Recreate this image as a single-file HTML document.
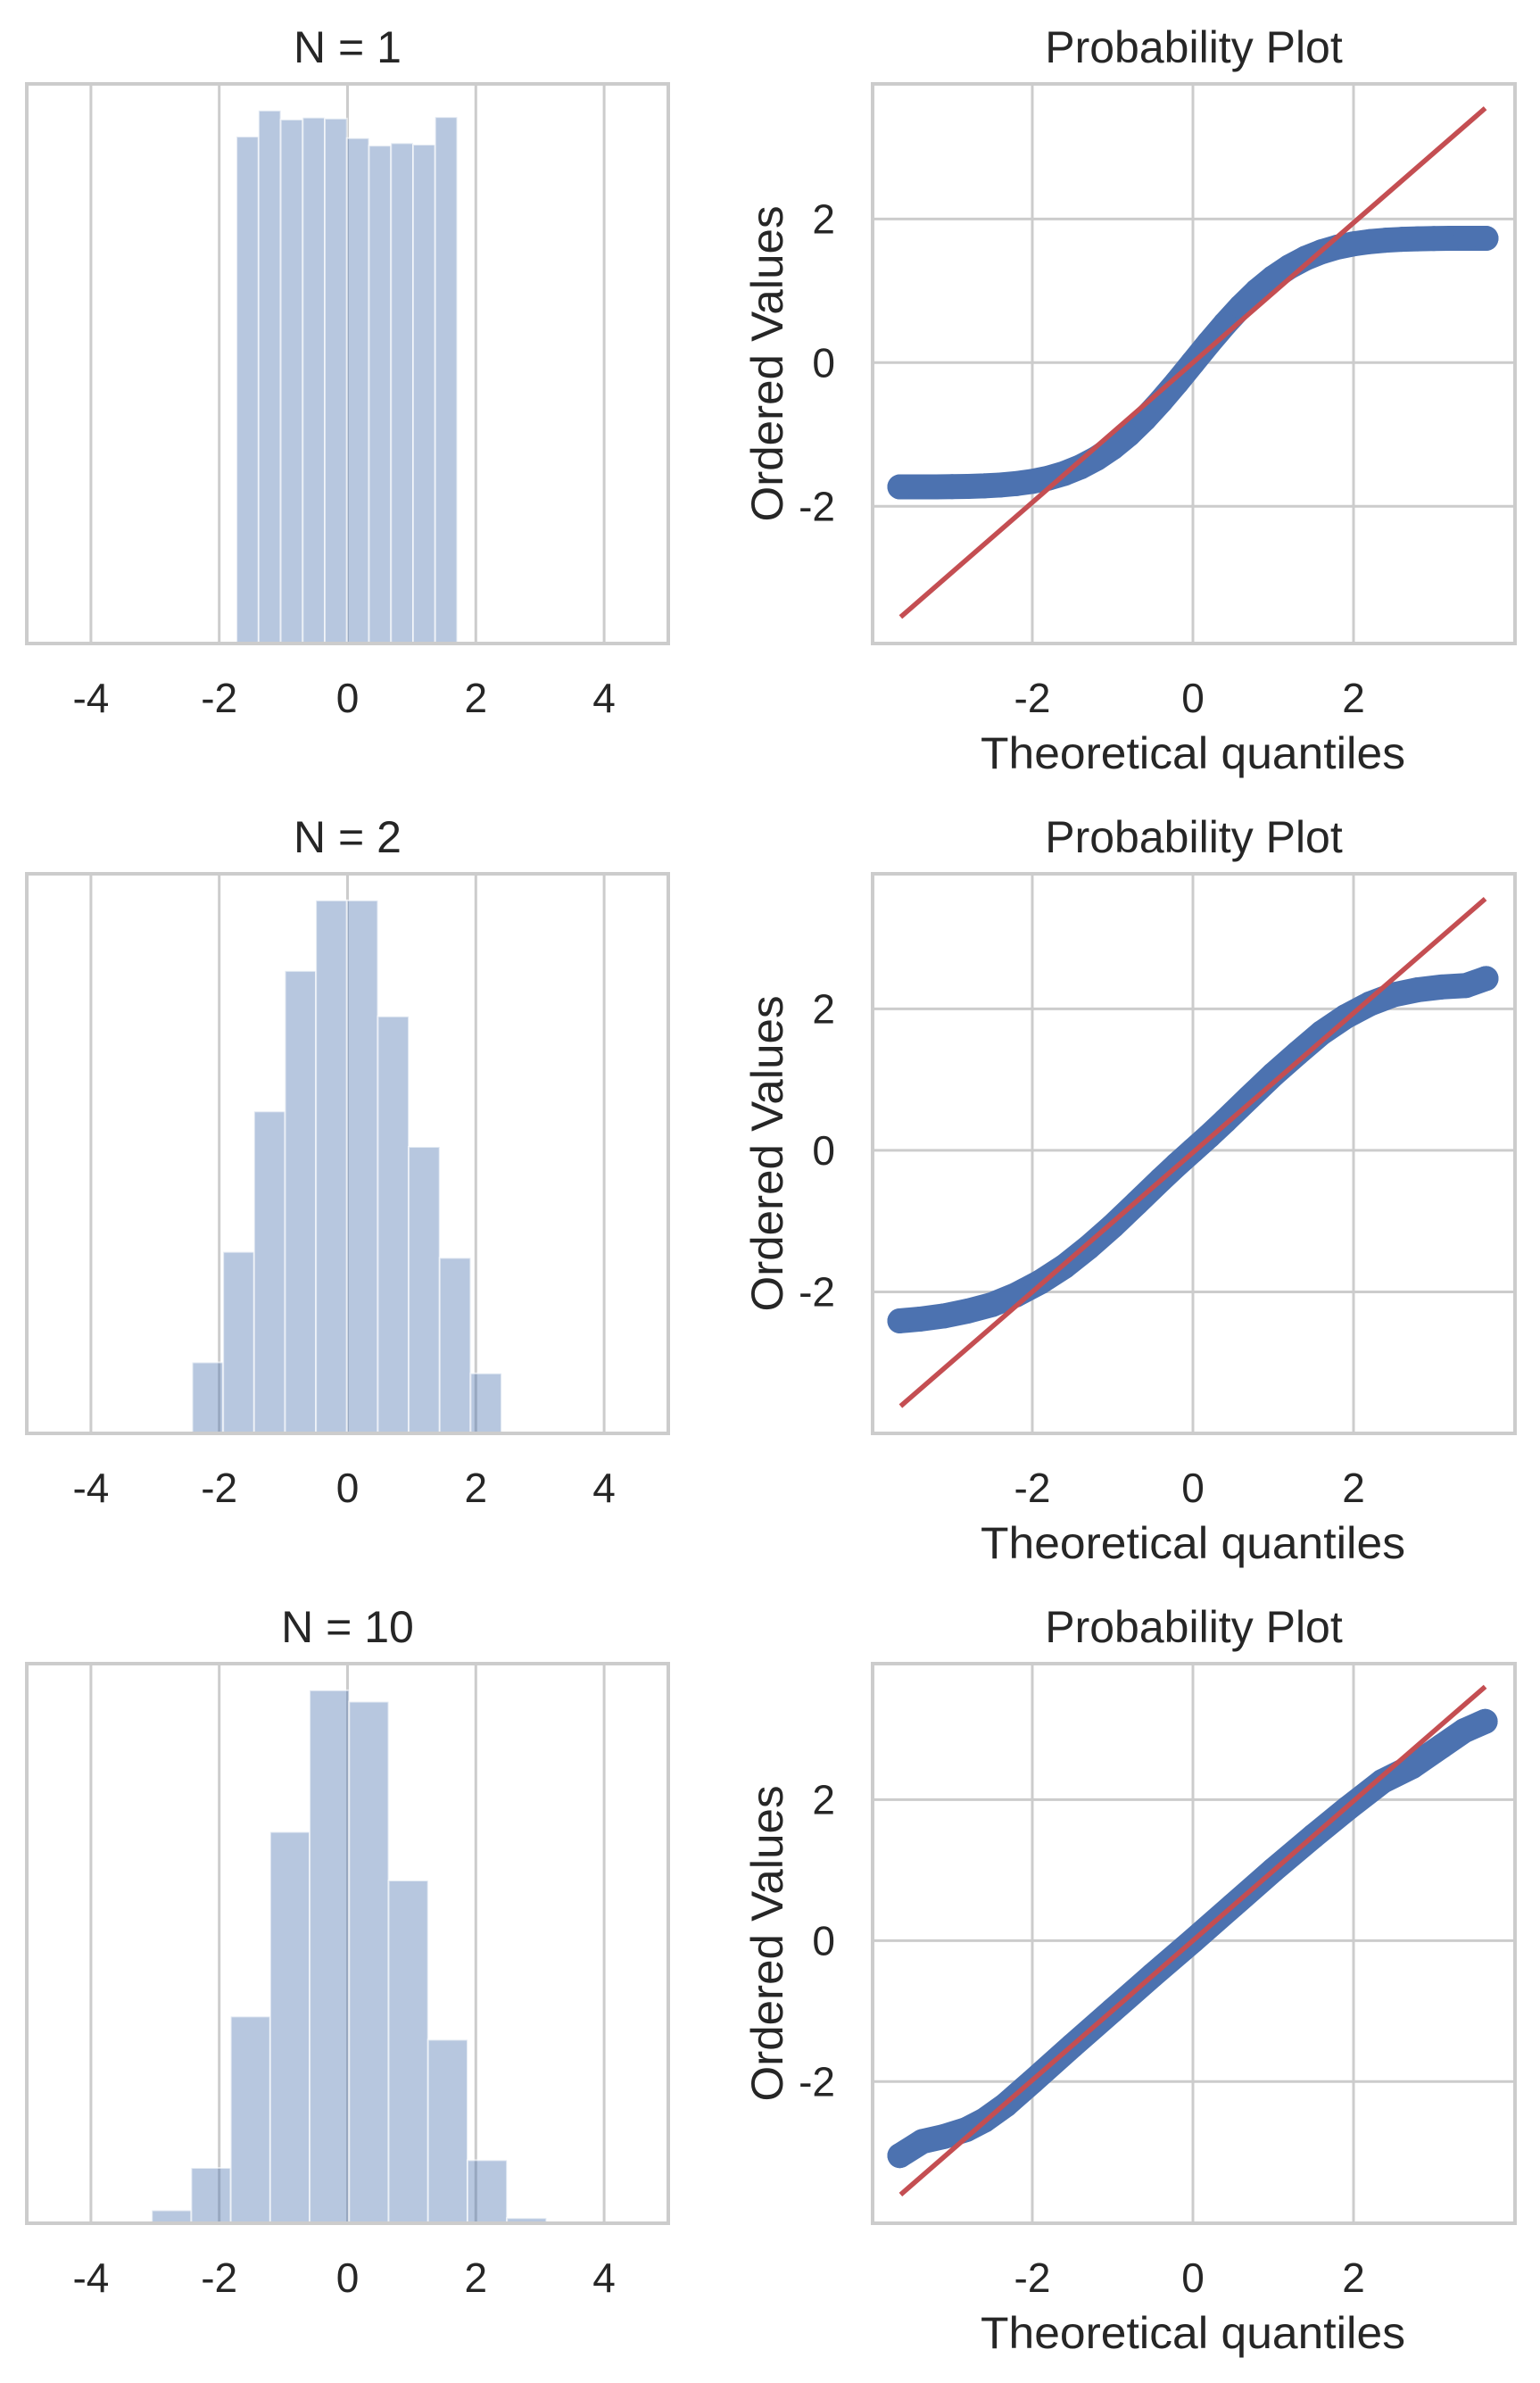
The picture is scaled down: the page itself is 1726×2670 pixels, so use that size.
<!DOCTYPE html>
<html><head><meta charset="utf-8"><style>
html,body{margin:0;padding:0;background:#fff}
svg{display:block}
text{font-family:"Liberation Sans","NanumGothic",sans-serif;fill:#262626}
</style></head><body>
<svg id="fig" width="1726" height="2670" viewBox="0 0 1726 2670" xmlns="http://www.w3.org/2000/svg"></svg>
<script>
// ---- data ----
const histTitles = ["N = 1", "N = 2", "N = 10"];
const histStart = [-1.73, -2.42, -3.05];
const histBinWidth = [0.344, 0.482, 0.615];
const histCounts1 = [1011, 1063, 1045, 1049, 1047, 1008, 993, 998, 995, 1050];
const histCounts2 = [142, 363, 644, 925, 1066, 1066, 834, 573, 351, 120];
const histCounts3 = [25, 107, 400, 757, 1031, 1009, 663, 355, 122, 10];
const histXTicks = [-4, -2, 0, 2, 4];

const qqX1 = [-3.65,-3.4,-3.2,-3.0,-2.8,-2.6,-2.4,-2.2,-2.0,-1.8,-1.6,-1.4,-1.2,-1.0,-0.8,-0.6,-0.4,-0.2,0,0.2,0.4,0.6,0.8,1.0,1.2,1.4,1.6,1.8,2.0,2.2,2.4,2.6,2.8,3.0,3.2,3.4,3.65];
const qqY1 = [-1.73,-1.73,-1.73,-1.727,-1.723,-1.716,-1.704,-1.684,-1.653,-1.608,-1.542,-1.452,-1.333,-1.183,-1.0,-0.782,-0.537,-0.275,0,0.275,0.537,0.782,1.0,1.183,1.333,1.452,1.542,1.608,1.653,1.684,1.704,1.716,1.723,1.727,1.73,1.73,1.73];
const qqX2 = [-3.65,-3.4,-3.1,-2.8,-2.5,-2.2,-1.9,-1.6,-1.3,-1.0,-0.7,-0.4,-0.2,0,0.2,0.4,0.7,1.0,1.3,1.6,1.9,2.2,2.5,2.8,3.1,3.4,3.65];
const qqY2 = [-2.41,-2.385,-2.34,-2.27,-2.18,-2.04,-1.86,-1.64,-1.37,-1.07,-0.745,-0.416,-0.203,0,0.203,0.416,0.745,1.07,1.37,1.66,1.89,2.07,2.2,2.27,2.31,2.33,2.43];
const qqX3 = [-3.65,-3.37,-3.1,-2.82,-2.6,-2.33,-2.0,-1.5,-1.0,-0.5,0,0.5,1.0,1.5,1.93,2.36,2.73,3.1,3.38,3.64];
const qqY3 = [-3.05,-2.85,-2.78,-2.68,-2.55,-2.33,-2.0,-1.49,-0.99,-0.49,0.0,0.5,1.0,1.48,1.88,2.26,2.47,2.76,2.98,3.11];
const fitSlope = [0.973, 0.985, 0.99];
const fitIntercept = [0.0, -0.03, 0.0];
const fitXRange = [-3.64, 3.64];
const qqXTicks = [-2, 0, 2];
const qqYTicks = [2, 0, -2];
const qqYLims = [[-3.91, 3.88], [-4.0, 3.91], [-4.01, 3.93]];

// ---- drawing ----
const NS = "http://www.w3.org/2000/svg";
const svg = document.getElementById("fig");
function mk(tag, attrs, parent) {
  const e = document.createElementNS(NS, tag);
  for (const k in attrs) e.setAttribute(k, attrs[k]);
  (parent || svg).appendChild(e);
  return e;
}
const rowTop = [94, 979, 1864];
const AH = 627;
const histCounts = [histCounts1, histCounts2, histCounts3];
const qqX = [qqX1, qqX2, qqX3];
const qqY = [qqY1, qqY2, qqY3];
const GRID = "#cccccc";
const TICK = 46;

for (let r = 0; r < 3; r++) {
  const top = rowTop[r], bot = top + AH;
  // ===== histogram =====
  const hx0 = 30, hx1 = 749;
  const hxs = v => hx0 + (v + 5) / 10 * (hx1 - hx0);
  const counts = histCounts[r];
  const ymax = Math.max(...counts) * 1.05;
  const hys = v => bot - v / ymax * AH;
  const hg = mk("g", {});
  
  
  for (const t of histXTicks) {
    const gl = mk("line", {x1: hxs(t), x2: hxs(t), y1: top, y2: bot, stroke: GRID, "stroke-width": 3}, hg);
    
    
    const tl = mk("text", {x: hxs(t), y: bot + 77, "font-size": TICK, "text-anchor": "middle"}, hg);
    tl.textContent = t;
    
    
  }
  counts.forEach((c, i) => {
    const a = histStart[r] + i * histBinWidth[r];
    const b = a + histBinWidth[r];
    const rect = mk("rect", {x: hxs(a), y: hys(c), width: hxs(b) - hxs(a), height: bot - hys(c),
      fill: "#4c72b0", "fill-opacity": 0.4, stroke: "#ffffff", "stroke-opacity": 0.6, "stroke-width": 2}, hg);
    
    
  });
  const hf = mk("rect", {x: hx0, y: top, width: hx1 - hx0, height: AH, fill: "none", stroke: GRID, "stroke-width": 4}, hg);
  
  
  const ht = mk("text", {x: (hx0 + hx1) / 2, y: top - 24, "font-size": 50, "text-anchor": "middle"}, hg);
  ht.textContent = histTitles[r];
  
  

  // ===== probability plot =====
  const qx0 = 978, qx1 = 1698;
  const qxs = v => 1337 + v * 90;
  const [ylo, yhi] = qqYLims[r];
  const qys = v => top + (yhi - v) / (yhi - ylo) * AH;
  const qg = mk("g", {});
  
  
  for (const t of qqXTicks) {
    const gl = mk("line", {x1: qxs(t), x2: qxs(t), y1: top, y2: bot, stroke: GRID, "stroke-width": 3}, qg);
    
    
    const tl = mk("text", {x: qxs(t), y: bot + 77, "font-size": TICK, "text-anchor": "middle"}, qg);
    tl.textContent = t;
    
    
  }
  for (const t of qqYTicks) {
    const gl = mk("line", {x1: qx0, x2: qx1, y1: qys(t), y2: qys(t), stroke: GRID, "stroke-width": 3}, qg);
    
    
    const tl = mk("text", {x: 936, y: qys(t) + 16, "font-size": TICK, "text-anchor": "end"}, qg);
    tl.textContent = t;
    
    
  }
  const xs = qqX[r], ys = qqY[r];
  const pts = xs.map((x, i) => qxs(x) + "," + qys(ys[i])).join(" ");
  const band = mk("polyline", {points: pts, fill: "none", stroke: "#4c72b0", "stroke-width": 28,
    "stroke-linecap": "round", "stroke-linejoin": "round"}, qg);
  
  
  xs.forEach((x, i) => {
    const c = mk("circle", {cx: qxs(x), cy: qys(ys[i]), r: 14, fill: "#4c72b0"}, qg);
    
    
  });
  const fl = mk("line", {x1: qxs(fitXRange[0]), y1: qys(fitSlope[r] * fitXRange[0] + fitIntercept[r]),
    x2: qxs(fitXRange[1]), y2: qys(fitSlope[r] * fitXRange[1] + fitIntercept[r]),
    stroke: "#c44e52", "stroke-width": 5.5}, qg);
  
  
  const qf = mk("rect", {x: qx0, y: top, width: qx1 - qx0, height: AH, fill: "none", stroke: GRID, "stroke-width": 4}, qg);
  
  
  const qt = mk("text", {x: (qx0 + qx1) / 2, y: top - 24, "font-size": 50, "text-anchor": "middle"}, qg);
  qt.textContent = "Probability Plot";
  
  
  const xl = mk("text", {x: 1337, y: bot + 140, "font-size": 50, "text-anchor": "middle",
    textLength: 476, lengthAdjust: "spacingAndGlyphs"}, qg);
  xl.textContent = "Theoretical quantiles";
  
  
  const cy = top + AH / 2;
  const yl = mk("text", {x: 0, y: 0, "font-size": 50, "text-anchor": "middle",
    transform: "translate(877," + cy + ") rotate(-90)", textLength: 354, lengthAdjust: "spacingAndGlyphs"}, qg);
  yl.textContent = "Ordered Values";
  
  
}
</script>
</body></html>
